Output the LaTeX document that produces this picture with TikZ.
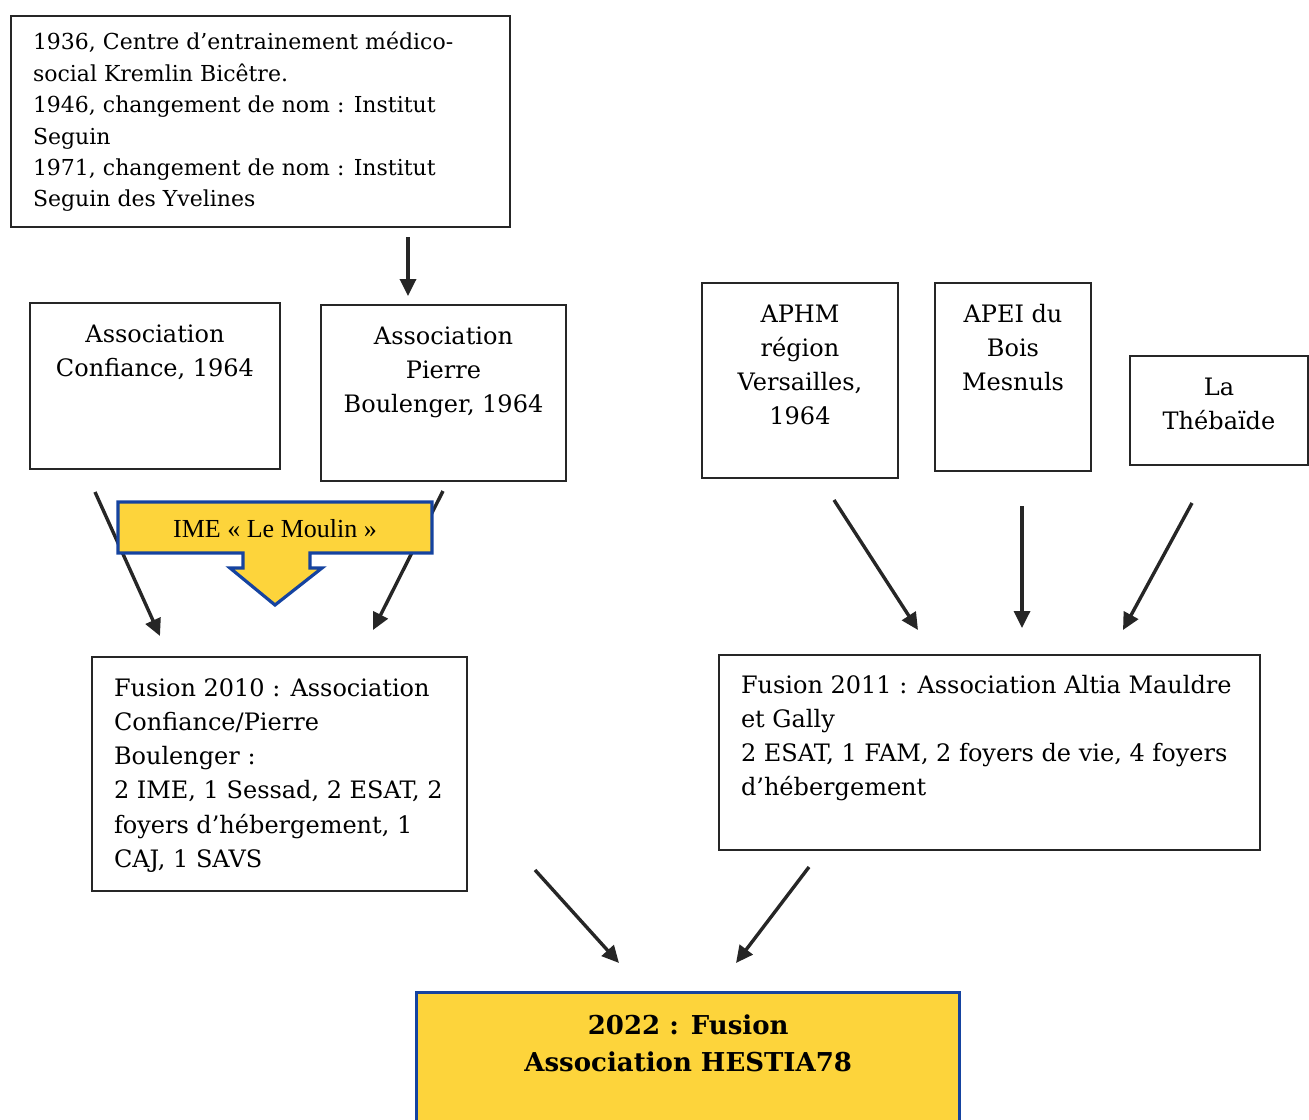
\documentclass[tikz,border=0pt]{standalone}
\usepackage{fontspec}
\setmainfont{DejaVu Serif}
\newfontfamily\imefont{Liberation Serif}
\usetikzlibrary{arrows.meta, positioning, calc}
\definecolor{FrameGray}{HTML}{262626}
\definecolor{SunYellow}{HTML}{FDD43B}
\definecolor{RoyalBlue}{HTML}{1543A0}
\newcommand{\boxtext}[3]{\parbox[c][#1][t]{#2}{#3}}

\begin{document}
\begin{tikzpicture}[x=1pt, y=-1pt,
    rec/.style={draw=FrameGray, line width=2pt, inner xsep=22pt, inner ysep=15pt,
                anchor=north west, font=\fontsize{24}{34.3}\selectfont},
    narrow/.style={rec, inner xsep=8pt},
    flow/.style={-{Triangle[length=17pt, width=16pt]}, line width=3.4pt, draw=FrameGray,
                 fill=FrameGray}]
    \useasboundingbox (0,0) rectangle (1309,1119);

    % Origin of Institut Seguin
    \node[rec, inner ysep=12pt, font=\fontsize{22}{31.4}\selectfont] (seguin) at (10,15)
        {\boxtext{187pt}{455pt}{\raggedright\strut 1936, Centre d’entrainement médico-\\
         social Kremlin Bicêtre.\\
         1946, changement de nom : Institut\\
         Seguin\\
         1971, changement de nom : Institut\\
         Seguin des Yvelines}};

    % Left-hand associations
    \node[narrow] (confiance) at (29,302)
        {\boxtext{136pt}{234pt}{\centering\strut Association\\ Confiance, 1964}};
    \node[narrow] (boulenger) at (320,304)
        {\boxtext{146pt}{229pt}{\centering\strut Association\\ Pierre\\ Boulenger, 1964}};

    % Right-hand associations
    \node[narrow] (aphm) at (701,282)
        {\boxtext{165pt}{180pt}{\centering\strut APHM\\ région\\ Versailles,\\ 1964}};
    \node[narrow] (apei) at (934,282)
        {\boxtext{158pt}{140pt}{\centering\strut APEI du\\ Bois\\ Mesnuls}};
    \node[narrow] (thebaide) at (1129,355)
        {\boxtext{79pt}{162pt}{\centering\strut La\\ Thébaïde}};

    % Mergers
    \node[rec] (fusion10) at (91,656)
        {\boxtext{204pt}{331pt}{\raggedright\strut Fusion 2010 : Association\\
         Confiance/Pierre\\
         Boulenger :\\
         2 IME, 1 Sessad, 2 ESAT, 2\\
         foyers d’hébergement, 1\\
         CAJ, 1 SAVS}};
    \node[rec, inner ysep=14pt] (fusion11) at (718,654)
        {\boxtext{167pt}{497pt}{\raggedright\strut Fusion 2011 : Association Altia Mauldre\\
         et Gally\\
         2 ESAT, 1 FAM, 2 foyers de vie, 4 foyers\\
         d’hébergement}};
    \node[rec, draw=RoyalBlue, fill=SunYellow, line width=3.4pt, inner ysep=16pt,
          font=\bfseries\fontsize{26}{37}\selectfont] (hestia) at (415,991)
        {\boxtext{130pt}{499pt}{\centering\strut 2022 : Fusion\\ Association HESTIA78}};

    % Arrow ends
    \coordinate (s0) at (408,237);  \coordinate (s1) at (408,296);
    \coordinate (c0) at (95,492);   \coordinate (c1) at (160,636);
    \coordinate (b0) at (443,491);  \coordinate (b1) at (373,630);
    \coordinate (a0) at (834,500);  \coordinate (a1) at (918,630);
    \coordinate (m0) at (1022,506); \coordinate (m1) at (1022,628);
    \coordinate (t0) at (1192,503); \coordinate (t1) at (1123,630);
    \coordinate (f0) at (535,870);  \coordinate (f1) at (619,963);
    \coordinate (g0) at (809,867);  \coordinate (g1) at (736,963);
    \foreach \from/\to in {s0/s1, c0/c1, b0/b1, a0/a1, m0/m1, t0/t1, f0/f1, g0/g1}
        \draw[flow] (\from) -- (\to);

    % IME block arrow
    \draw[fill=SunYellow, draw=RoyalBlue, line width=3.2pt, line join=miter]
        (118,502) -- (432,502) -- (432,553) -- (310,553) -- (310,568) -- (322,568)
        -- (275,605) -- (230,568) -- (243,568) -- (243,553) -- (118,553) -- cycle;
    \node[font=\imefont\fontsize{26}{30}\selectfont] (ime) at (275,529) {IME «~Le Moulin~»};
\end{tikzpicture}
\end{document}
